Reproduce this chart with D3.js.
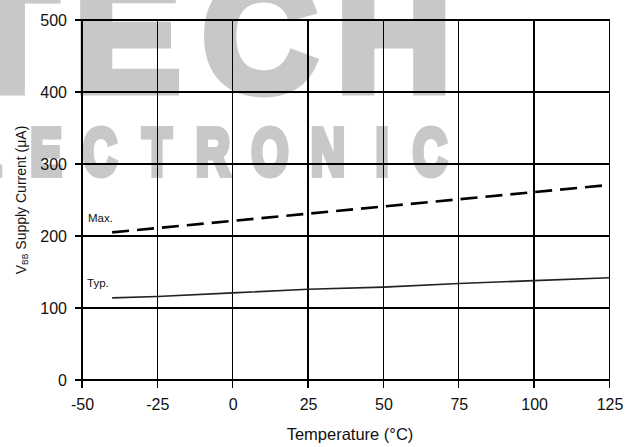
<!DOCTYPE html>
<html>
<head>
<meta charset="utf-8">
<script src="https://cdn.jsdelivr.net/npm/d3@7"></script>
<style>
  html, body { margin: 0; padding: 0; background: #fff; }
  svg { display: block; }
  text { font-family: "Liberation Sans", Arial, sans-serif; }
</style>
</head>
<body>
<svg id="chart" width="642" height="447"></svg>
<script>
// ---- data ----
const temperatures = [-40, -25, 0, 25, 50, 75, 100, 125];
const maxCurrent   = [205, 211, 221, 231, 241, 251, 261, 271];
const typCurrent   = [114, 116, 121, 126, 129, 134, 138, 142];
const xTicks = [-50, -25, 0, 25, 50, 75, 100, 125];
const yTicks = [0, 100, 200, 300, 400, 500];
const seriesNames = ["Max.", "Typ."];
const watermarkTop = ["T", "E", "C", "H"];
const watermarkRow = ["L", "E", "C", "T", "R", "O", "N", "I", "C"];

const svg = d3.select("#chart");
const W = 642, H = 447;
const m = { left: 82, right: 642 - 609.5, top: 20, bottom: 447 - 380 };
const x = d3.scaleLinear().domain([-50, 125]).range([m.left, W - m.right]);
const y = d3.scaleLinear().domain([0, 500]).range([H - m.bottom, m.top]);

svg.append("rect").attr("width", W).attr("height", H).attr("fill", "#fff");

// ---- watermark ----
const wmColor = "#c8c8c8";
const wm = svg.append("g").attr("fill", wmColor).attr("stroke", wmColor)
  .attr("stroke-linejoin", "miter");
const topX = [-40, 74, 202, 336];
wm.selectAll("text.top").data(watermarkTop).join("text")
  .attr("class", "top")
  .attr("x", (d, i) => topX[i]).attr("y", 91)
  .attr("font-size", 160)
  .attr("stroke-width", 9)
  .style("font-weight", 700)
  .text(d => d);
const rowX = [-13, 46, 100, 157, 213, 270, 328, 382, 430];
wm.selectAll("text.row").data(watermarkRow).join("text")
  .attr("class", "row")
  .attr("text-anchor", "middle")
  .attr("transform", (d, i) => `translate(${rowX[i]},175) scale(0.72,1)`)
  .attr("font-size", 66)
  .attr("stroke-width", 6)
  .style("font-weight", 700)
  .text(d => d);

// ---- grid ----
const grid = svg.append("g").attr("stroke", "#000").attr("stroke-width", 1.4).attr("shape-rendering", "crispEdges");
grid.selectAll("line.h").data(yTicks).join("line")
  .attr("class", "h")
  .attr("x1", m.left - 7).attr("x2", W - m.right)
  .attr("y1", d => y(d)).attr("y2", d => y(d));
grid.selectAll("line.v").data(xTicks).join("line")
  .attr("class", "v")
  .attr("x1", d => x(d)).attr("x2", d => x(d))
  .attr("y1", m.top).attr("y2", H - m.bottom + 8);

// ---- axes labels via d3 axes ----
const fmt = d => String(d);
const yAxis = svg.append("g").attr("transform", `translate(${m.left},0)`)
  .call(d3.axisLeft(y).tickValues(yTicks).tickSize(7).tickPadding(8).tickFormat(fmt));
yAxis.select(".domain").remove();
yAxis.selectAll("line").remove();
yAxis.selectAll("text").attr("font-size", 16).attr("fill", "#111").style("font-family", "'Liberation Sans', Arial, sans-serif");

const xAxis = svg.append("g").attr("transform", `translate(0,${H - m.bottom})`)
  .call(d3.axisBottom(x).tickValues(xTicks).tickSize(8).tickPadding(11).tickFormat(fmt));
xAxis.select(".domain").remove();
xAxis.selectAll("line").remove();
xAxis.selectAll("text").attr("font-size", 16).attr("fill", "#111").style("font-family", "'Liberation Sans', Arial, sans-serif");

// ---- series ----
const line = d3.line().x(d => x(d[0])).y(d => y(d[1]));
const maxData = temperatures.map((t, i) => [t, maxCurrent[i]]);
const typData = temperatures.map((t, i) => [t, typCurrent[i]]);
svg.append("path").datum(maxData).attr("d", line)
  .attr("fill", "none").attr("stroke", "#000").attr("stroke-width", 2.6).attr("stroke-dasharray", "17,8");
svg.append("path").datum(typData).attr("d", line)
  .attr("fill", "none").attr("stroke", "#222").attr("stroke-width", 1.6);

// series labels
svg.append("text").attr("x", x(-50) + 6).attr("y", y(maxCurrent[0]) - 10)
  .attr("font-size", 11.5).attr("fill", "#111").text(seriesNames[0]);
svg.append("text").attr("x", x(-50) + 5).attr("y", y(typCurrent[0]) - 11)
  .attr("font-size", 11.5).attr("fill", "#111").text(seriesNames[1]);

// ---- axis titles ----
svg.append("text").attr("x", 350).attr("y", 440).attr("text-anchor", "middle")
  .attr("font-size", 16.5).attr("fill", "#111").text("Temperature (°C)");

const yt = svg.append("text").attr("transform", "translate(26,200) rotate(-90)")
  .attr("text-anchor", "middle").attr("font-size", 14).attr("fill", "#111");
yt.append("tspan").text("V");
yt.append("tspan").attr("font-size", 8.5).attr("dy", 2).text("BB");
yt.append("tspan").attr("dy", -2).text(" Supply Current (μA)");
</script>
</body>
</html>
